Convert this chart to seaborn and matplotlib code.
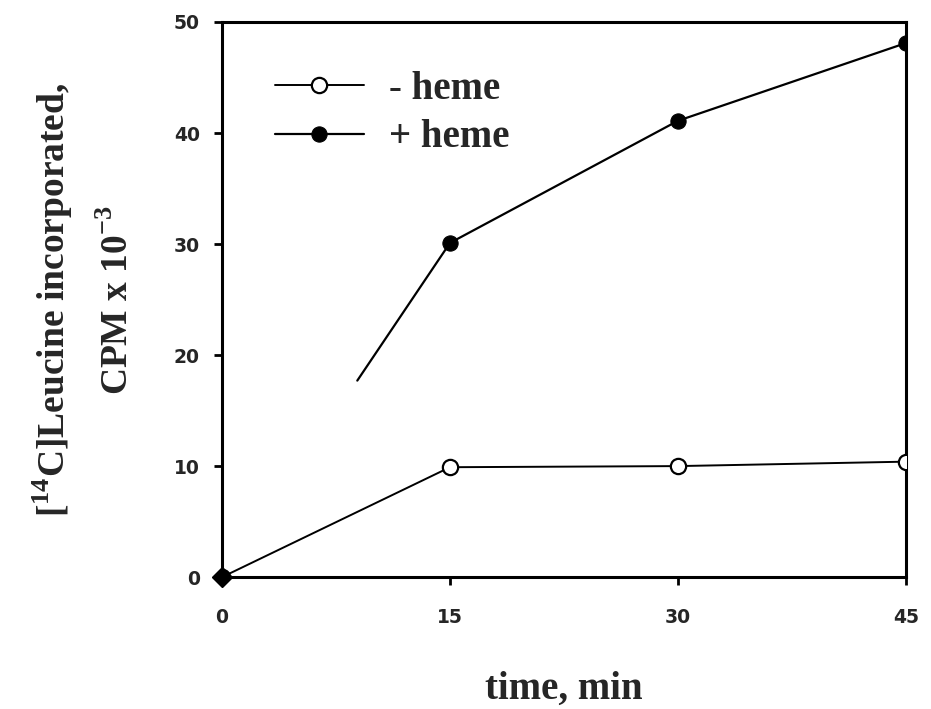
import matplotlib
matplotlib.use("Agg")
import matplotlib.pyplot as plt
import seaborn as sns
import pandas as pd

# Data
time_minus = [0, 15, 30, 45]
cpm_minus = [0, 9.9, 10.0, 10.4]
time_plus = [8.9, 15, 30, 45]
cpm_plus = [17.7, 30.1, 41.1, 48.1]
origin_x = [0]
origin_y = [0]
x_ticks = [0, 15, 30, 45]
y_ticks = [0, 10, 20, 30, 40, 50]

sns.set_theme(style="white")
plt.rcParams['font.family'] = ['Liberation Serif', 'DejaVu Serif']
plt.rcParams['mathtext.fontset'] = 'custom'
plt.rcParams['mathtext.rm'] = 'Liberation Serif'
plt.rcParams['mathtext.bf'] = 'Liberation Serif:bold'

fig = plt.figure(figsize=(9.31, 7.09), dpi=100)
ax = fig.add_axes([0.2385, 0.186, 0.7345, 0.783])

df_minus = pd.DataFrame({"t": time_minus, "v": cpm_minus})
df_plus = pd.DataFrame({"t": time_plus, "v": cpm_plus})

sns.lineplot(data=df_minus, x="t", y="v", ax=ax, color="black", lw=1.4,
             marker="o", markersize=11, markerfacecolor="white",
             markeredgecolor="black", markeredgewidth=1.6, label="- heme",
             zorder=3)
sns.lineplot(data=df_plus, x="t", y="v", ax=ax, color="black", lw=1.6,
             marker="o", markersize=11, markerfacecolor="black",
             markeredgecolor="black", markevery=[1, 2, 3], label="+ heme",
             zorder=3)
ax.plot(origin_x, origin_y, marker="D", markersize=10, color="black",
        linestyle="none", clip_on=False, zorder=4)

ax.set_xlim(0, 45)
ax.set_ylim(0, 50)
ax.set_xticks(x_ticks)
ax.set_yticks(y_ticks)
ax.set_xticklabels([str(v) for v in x_ticks], fontsize=13.5, fontweight="bold",
                   family="DejaVu Sans")
ax.set_yticklabels([str(v) for v in y_ticks], fontsize=13.5, fontweight="bold",
                   family="DejaVu Sans")
ax.tick_params(axis="both", which="both", direction="out", length=6, width=2,
               color="black", bottom=True, left=True, top=False, right=False)
ax.tick_params(axis="x", pad=16)
ax.tick_params(axis="y", pad=10)
for sp in ax.spines.values():
    sp.set_visible(True)
    sp.set_color("black")
    sp.set_linewidth(2.2)

ax.set_xlabel("time, min", fontsize=28, fontweight="bold", labelpad=32)
ax.set_ylabel("[$^{\\mathbf{14}}$C]Leucine incorporated,\nCPM x 10$^{\\mathbf{-3}}$",
              fontsize=27, fontweight="bold", labelpad=27, linespacing=1.9)

leg = ax.legend(loc="upper left", bbox_to_anchor=(0.077, 0.912), frameon=False,
                fontsize=28, handlelength=2.3, handletextpad=0.65,
                labelspacing=0.3, borderpad=0, borderaxespad=0)
for t in leg.get_texts():
    t.set_fontweight("bold")

fig.savefig("out.png", dpi=100, facecolor="white")
